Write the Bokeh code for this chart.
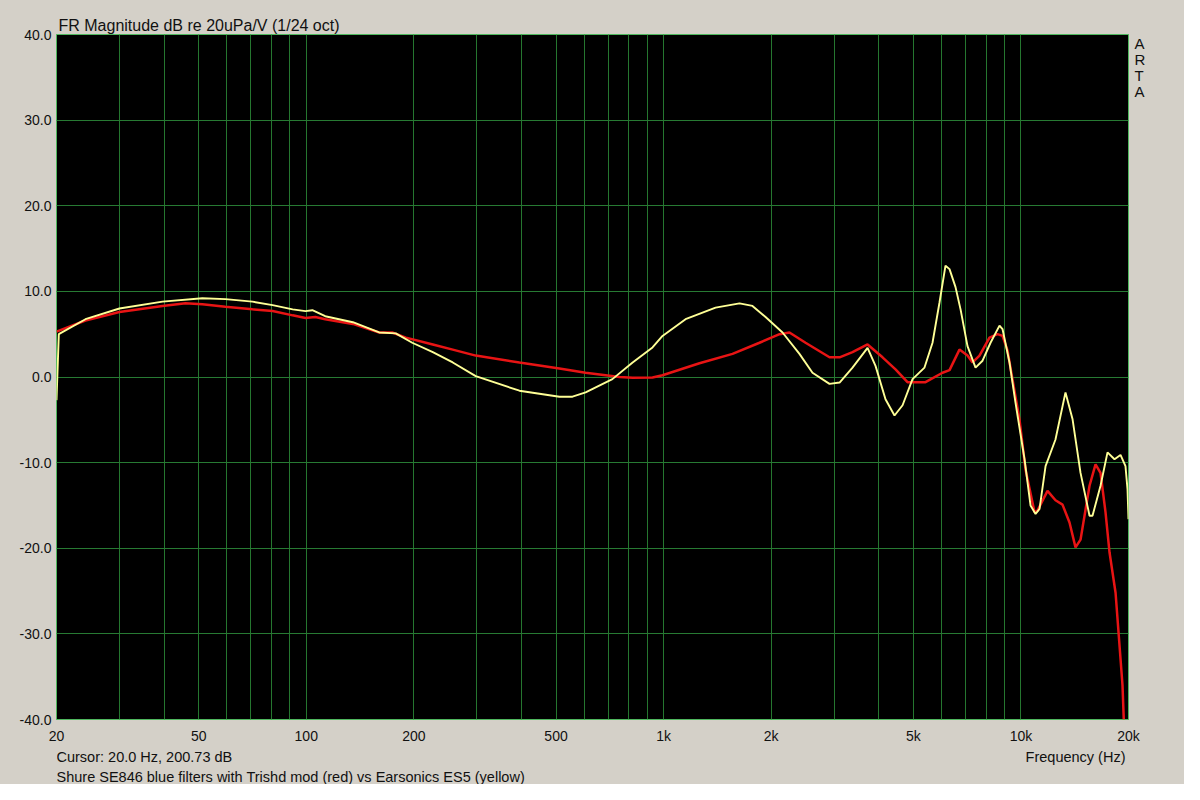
from bokeh.plotting import figure
from bokeh.layouts import column
from bokeh.models import (FixedTicker, PrintfTickFormatter, Label, Range1d,
                          LinearAxis, Title)
from bokeh.embed import file_html
from bokeh.resources import INLINE

# ---- data ----
red_freq = [20, 24.1, 30, 39.6, 45.9, 51.2, 59.4, 70.7, 80.5, 91.6,
            99.5, 106, 113, 135, 160, 174, 190, 226, 257, 298,
            395, 511, 605, 753, 819, 931, 993, 1260, 1559, 1855,
            2111, 2250, 2496, 2913, 3108, 3378, 3722, 4099, 4457, 4815,
            5408, 6033, 6312, 6730, 7087, 7321, 7657, 8166, 8599, 8881,
            9172, 9472, 9910, 10300, 10916, 11128, 11868, 12494, 13072, 13676,
            14216, 14682, 15558, 16172, 16702, 17248, 17700, 18400, 19242, 19400]
red_db = [5.3, 6.6, 7.6, 8.3, 8.6, 8.5, 8.2, 7.9, 7.7, 7.2,
          6.9, 7.0, 6.75, 6.2, 5.2, 5.2, 4.6, 3.8, 3.2, 2.5,
          1.7, 1.0, 0.5, 0.0, -0.1, -0.05, 0.2, 1.6, 2.7, 4.0,
          5.0, 5.2, 4.0, 2.3, 2.3, 2.9, 3.8, 2.3, 0.9, -0.6,
          -0.6, 0.5, 0.8, 3.2, 2.5, 1.7, 2.5, 4.6, 5.0, 4.8,
          3.1, -0.3, -5.0, -10.8, -15.8, -15.6, -13.3, -14.4, -14.9, -17.0,
          -19.9, -19.0, -12.7, -10.2, -11.2, -15.8, -20.5, -25.2, -36.0, -40.0]

yel_freq = [20, 20.3, 24.1, 30, 39.6, 51.2, 59.4, 70.7, 80.5, 91.6,
            99.5, 104, 113, 135, 160, 178, 198, 226, 257, 298,
            395, 511, 556, 605, 719, 819, 931, 993, 1152, 1398,
            1631, 1773, 1929, 2152, 2400, 2610, 2913, 3108, 3378, 3722,
            3918, 4178, 4428, 4664, 4973, 5372, 5657, 5917, 6150, 6312,
            6561, 6777, 7087, 7464, 7808, 8221, 8710, 8881, 9290, 9656,
            10234, 10638, 10988, 11274, 11720, 12494, 13326, 13942, 14682, 15558,
            15860, 16702, 17470, 18276, 18996, 19614, 19872, 20000]
yel_db = [-2.7, 5.0, 6.75, 8.0, 8.8, 9.2, 9.1, 8.8, 8.4, 7.9,
          7.7, 7.8, 7.1, 6.4, 5.2, 5.1, 4.0, 2.9, 1.7, 0.1,
          -1.6, -2.3, -2.3, -1.8, -0.25, 1.7, 3.45, 4.8, 6.75, 8.1,
          8.6, 8.3, 7.0, 5.2, 2.7, 0.5, -0.8, -0.65, 1.1, 3.4,
          1.3, -2.6, -4.5, -3.3, -0.25, 1.1, 4.0, 8.7, 13.0, 12.6,
          10.5, 7.9, 3.6, 1.1, 1.9, 4.0, 6.0, 5.6, 1.7, -3.0,
          -9.6, -15.0, -16.0, -15.4, -10.4, -7.3, -1.8, -4.9, -11.2, -16.2,
          -16.2, -12.7, -8.8, -9.6, -9.1, -10.4, -13.1, -16.6]

x_ticks = [20, 50, 100, 200, 500, 1000, 2000, 5000, 10000, 20000]
x_tick_labels = ["20", "50", "100", "200", "500", "1k", "2k", "5k", "10k", "20k"]
y_ticks = [-40, -30, -20, -10, 0, 10, 20, 30, 40]
x_grid = [20, 30, 40, 50, 60, 70, 80, 90, 100,
          200, 300, 400, 500, 600, 700, 800, 900, 1000,
          2000, 3000, 4000, 5000, 6000, 7000, 8000, 9000, 10000, 20000]

title_text = "FR Magnitude dB re 20uPa/V (1/24 oct)"
cursor_text = "Cursor: 20.0 Hz, 200.73 dB"
caption_text = "Shure SE846 blue filters with Trishd mod (red) vs Earsonics ES5 (yellow)"
xlabel_text = "Frequency (Hz)"
brand_text = "A\nR\nT\nA"
brand_pos = 36.15

BG = "#d4d0c8"
FONT = "Liberation Sans"
TXT = "#111111"

p = figure(x_axis_type="log", frame_width=1072, frame_height=685, width=1184, height=747,
           x_range=Range1d(20, 20000), y_range=Range1d(-40, 40),
           output_backend="svg", toolbar_location=None,
           min_border_left=56, min_border_right=56, min_border_top=34, min_border_bottom=28,
           background_fill_color="black", border_fill_color=BG)
p.outline_line_color = "#4fb85e"
p.outline_line_width = 1

# title (above, left aligned)
p.title = Title(text=title_text, align="left", offset=2, standoff=2,
                text_font=FONT, text_font_size="16px", text_font_style="normal",
                text_color=TXT)

# grids
p.xgrid.ticker = FixedTicker(ticks=x_grid)
p.xgrid.grid_line_color = "#25762f"
p.ygrid.ticker = FixedTicker(ticks=y_ticks)
p.ygrid.grid_line_color = "#277a33"

# axes
def style_axis(ax):
    ax.axis_line_color = None
    ax.major_tick_line_color = None
    ax.minor_tick_line_color = None
    ax.major_tick_out = 0
    ax.major_tick_in = 0
    ax.minor_tick_out = 0
    ax.minor_tick_in = 0
    ax.major_label_text_font = FONT
    ax.major_label_text_font_size = "14px"
    ax.major_label_text_color = TXT

style_axis(p.xaxis[0])
style_axis(p.yaxis[0])
p.xaxis.ticker = FixedTicker(ticks=x_ticks)
p.xaxis.major_label_overrides = {t: l for t, l in zip(x_ticks, x_tick_labels)}
p.xaxis.major_label_standoff = 8
p.yaxis.ticker = FixedTicker(ticks=y_ticks)
p.yaxis.formatter = PrintfTickFormatter(format="%.1f")
p.yaxis.major_label_standoff = 5

brand_axis = LinearAxis(ticker=FixedTicker(ticks=[brand_pos]),
                        major_label_overrides={brand_pos: brand_text})
style_axis(brand_axis)
brand_axis.major_label_text_font_size = "15px"
brand_axis.major_label_text_line_height = 0.95
brand_axis.major_label_standoff = 6
p.add_layout(brand_axis, "right")

# curves
p.line(red_freq, red_db, line_color="#e81414", line_width=2.5)
p.line(yel_freq, yel_db, line_color="#ffff96", line_width=1.9)

# footer strip (same grey), frame aligned with the plot frame
foot_h = 784 - 747
foot = figure(frame_width=1072, frame_height=foot_h, width=1184, height=foot_h,
              x_range=Range1d(0, 1072), y_range=Range1d(0, foot_h),
              output_backend="svg", toolbar_location=None,
              min_border_left=56, min_border_right=56, min_border_top=0, min_border_bottom=0,
              background_fill_color=None, border_fill_color=BG)
foot.axis.visible = False
foot.grid.visible = False
foot.outline_line_color = None

def lab(x, y, text, align="left"):
    foot.add_layout(Label(x=x, y=y, text=text, text_font=FONT, text_font_size="14.5px",
                          text_color=TXT, text_align=align, text_baseline="middle"))

lab(0, 28, cursor_text)
lab(0, 8, caption_text)
lab(1069, 28, xlabel_text, align="right")

layout = column(p, foot, spacing=0, styles={"background-color": BG})
open("out.html", "w").write(file_html(layout, INLINE))
